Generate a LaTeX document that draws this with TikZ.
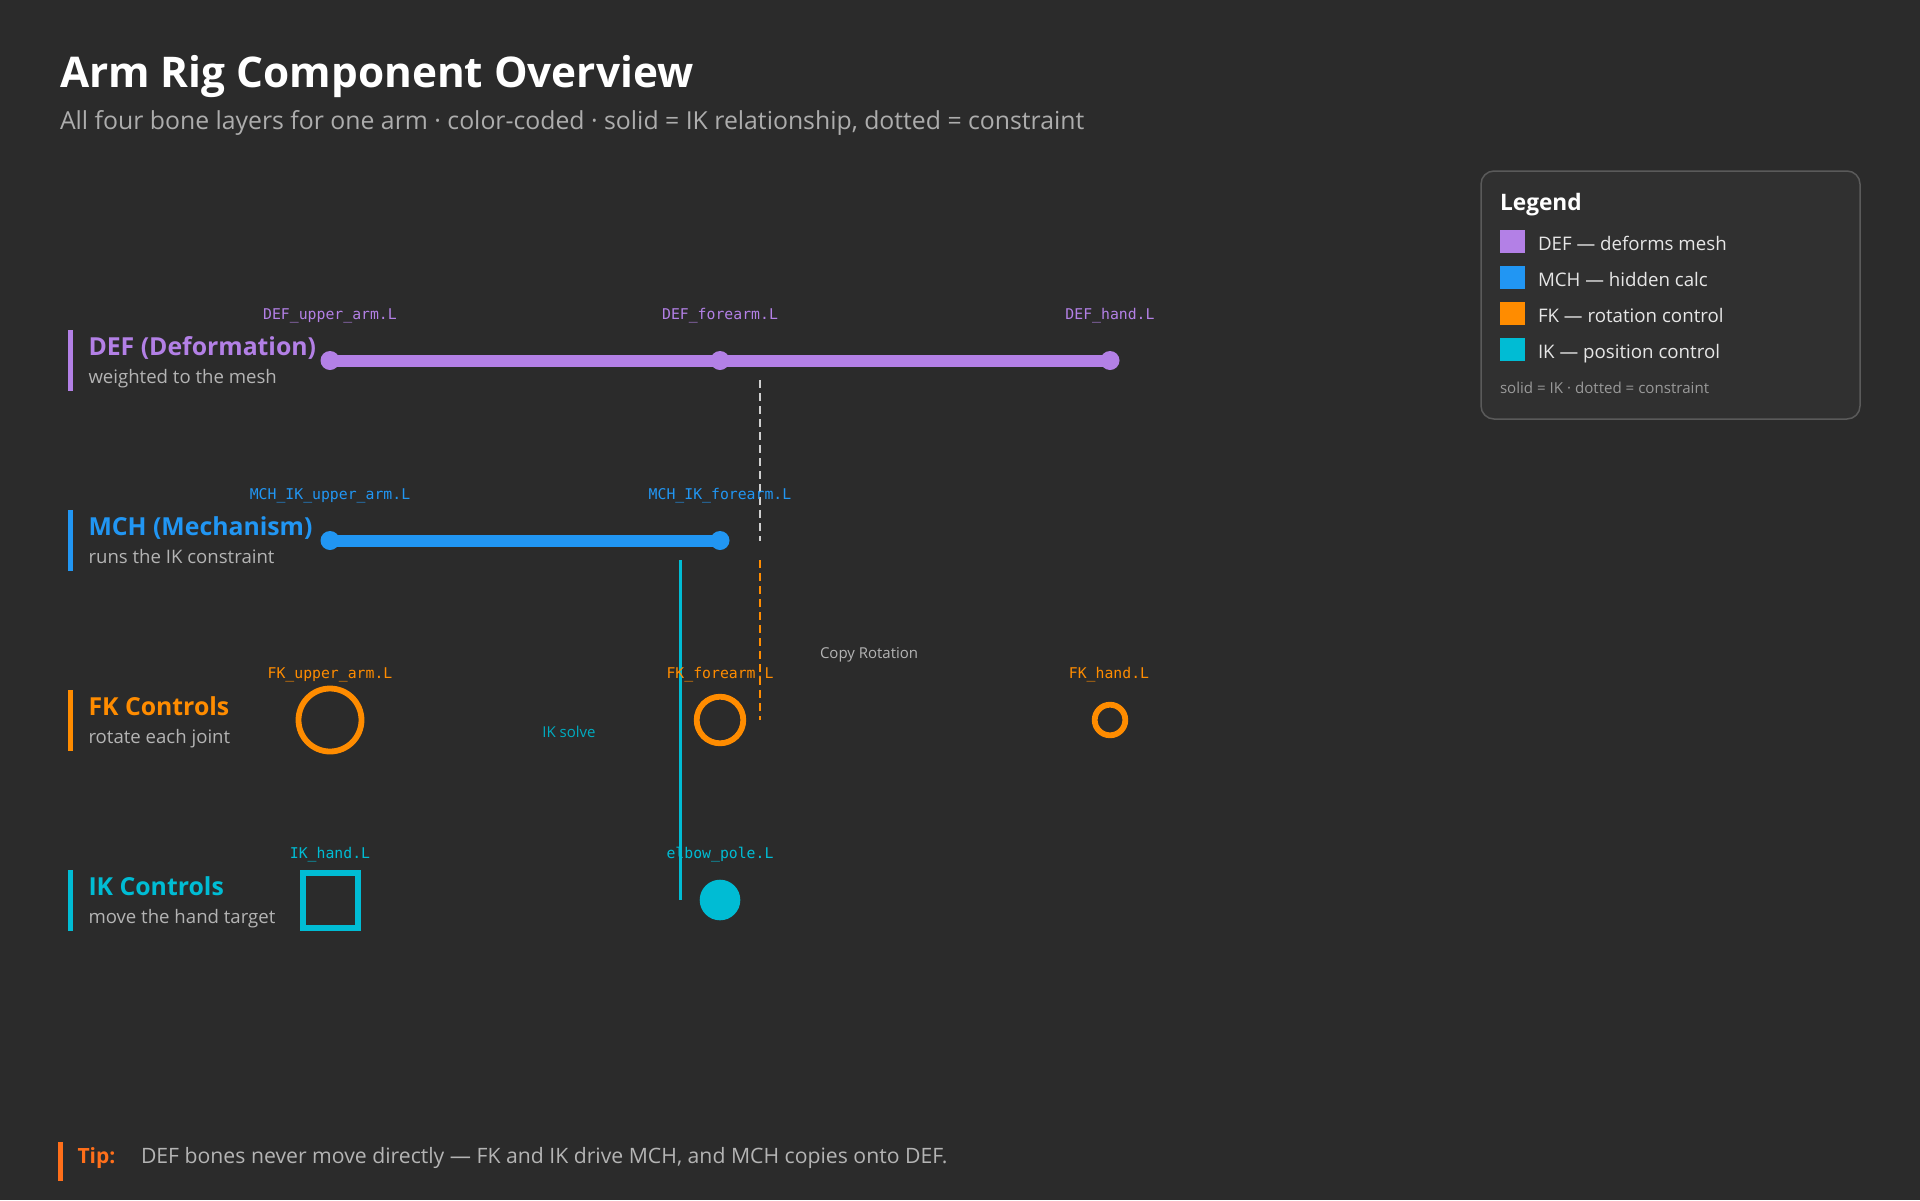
\documentclass[tikz,border=0pt]{standalone}
\usepackage{fontspec}
\setmainfont{Open Sans}
\newfontfamily\monof{DejaVu Sans Mono}
\definecolor{bg}{HTML}{2B2B2B}
\definecolor{defc}{HTML}{B380E6}
\definecolor{mchc}{HTML}{2196F3}
\definecolor{fkc}{HTML}{FF8C00}
\definecolor{ikc}{HTML}{00BCD4}
\definecolor{iksolve}{HTML}{00ACC1}
\definecolor{tipc}{HTML}{FF6F1A}
\definecolor{subgray}{HTML}{ADADAD}
\definecolor{rowgray}{HTML}{B4B4B4}
\definecolor{leggray}{HTML}{E6E6E6}
\definecolor{footgray}{HTML}{9A9A9A}
\definecolor{legfill}{HTML}{303030}
\definecolor{legstroke}{HTML}{5A5A5A}
\definecolor{dashw}{HTML}{D0D0D0}
\begin{document}
\begin{tikzpicture}[x=1pt,y=-1pt,
  txt/.style={inner sep=0pt, outer sep=0pt},
  lbl/.style={txt, anchor=base, font=\monof\fontsize{14.8}{16}\selectfont},
  rowtitle/.style={txt, anchor=base west, font=\bfseries\fontsize{24.8}{28}\selectfont},
  rowsub/.style={txt, anchor=base west, text=rowgray, font=\fontsize{18.6}{22}\selectfont},
  rowbar/.style={line width=5pt},
  joint/.style={circle, fill, minimum size=19pt, inner sep=0pt, outer sep=0pt},
  bone/.style={line width=12pt},
  fkring/.style={circle, draw=fkc, line width=5.8pt, inner sep=0pt, outer sep=0pt},
  swatch/.style={minimum width=25pt, minimum height=23pt, inner sep=0pt, outer sep=0pt},
  legtxt/.style={txt, anchor=base west, text=leggray, font=\fontsize{18.7}{22}\selectfont},
  dashline/.style={line width=2pt, dash pattern=on 8pt off 5pt}
]
\fill[bg] (0,0) rectangle (1920,1200);
\useasboundingbox (0,0) rectangle (1920,1200);

% Title
\node[txt, anchor=base west, text=white, font=\bfseries\fontsize{42.3}{48}\selectfont] (title) at (60,87.5) {Arm Rig Component Overview};
\node[txt, anchor=base west, text=subgray, font=\fontsize{24.8}{28}\selectfont] (subtitle) at (60,129) {All four bone layers for one arm · color-coded · solid = IK relationship, dotted = constraint};

% Legend
\draw[rounded corners=13pt, fill=legfill, draw=legstroke, line width=1.5pt] (1481,171) rectangle (1860,419);
\node[txt, anchor=base west, text=white, font=\bfseries\fontsize{22.7}{26}\selectfont] (legtitle) at (1500,210) {Legend};
\node[swatch, fill=defc] (sw1) at (1512.5,241.5) {};
\node[swatch, fill=mchc] (sw2) at (1512.5,277.5) {};
\node[swatch, fill=fkc] (sw3) at (1512.5,313.5) {};
\node[swatch, fill=ikc] (sw4) at (1512.5,349.5) {};
\node[legtxt] (lt1) at (1538,250) {DEF — deforms mesh};
\node[legtxt] (lt2) at (1538,286) {MCH — hidden calc};
\node[legtxt] (lt3) at (1538,322) {FK — rotation control};
\node[legtxt] (lt4) at (1538,358) {IK — position control};
\node[txt, anchor=base west, text=footgray, font=\fontsize{15.1}{18}\selectfont] (legfoot) at (1500,393) {solid = IK · dotted = constraint};

% Row headers
\draw[rowbar, defc] (70.5,330) -- (70.5,391);
\node[rowtitle, text=defc] (deft) at (88.5,355) {DEF (Deformation)};
\node[rowsub] (defs) at (88.5,383) {weighted to the mesh};
\draw[rowbar, mchc] (70.5,510) -- (70.5,571);
\node[rowtitle, text=mchc] (mcht) at (88.5,535) {MCH (Mechanism)};
\node[rowsub] (mchs) at (88.5,563) {runs the IK constraint};
\draw[rowbar, fkc] (70.5,690) -- (70.5,751);
\node[rowtitle, text=fkc] (fkt) at (88.5,715) {FK Controls};
\node[rowsub] (fks) at (88.5,743) {rotate each joint};
\draw[rowbar, ikc] (70.5,870) -- (70.5,931);
\node[rowtitle, text=ikc] (ikt) at (88.5,895) {IK Controls};
\node[rowsub] (iks) at (88.5,923) {move the hand target};

% Connectors (behind)
\coordinate (wtop) at (760,380);
\coordinate (wbot) at (760,541);
\coordinate (otop) at (760,560);
\coordinate (obot) at (760,720);
\coordinate (ctop) at (680,560);
\coordinate (cbot) at (680,900);
\draw[dashline, dashw] (wtop) -- (wbot);
\draw[dashline, fkc] (otop) -- (obot);
\draw[line width=3pt, ikc] (ctop) -- (cbot);
\node[txt, anchor=base west, text=rowgray, font=\fontsize{15}{18}\selectfont] (copyrot) at (820,658) {Copy Rotation};
\node[txt, anchor=base, text=iksolve, font=\fontsize{15}{18}\selectfont] (iksolvet) at (569,737) {IK solve};

% DEF bones
\node[joint, fill=defc] (d1) at (330,360.5) {};
\node[joint, fill=defc] (d2) at (720,360.5) {};
\node[joint, fill=defc] (d3) at (1110,360.5) {};
\draw[bone, defc] (d1.center) -- (d2.center) -- (d3.center);
\node[lbl, text=defc] (d1l) at (330,319) {DEF\_upper\_arm.L};
\node[lbl, text=defc] (d2l) at (720,319) {DEF\_forearm.L};
\node[lbl, text=defc] (d3l) at (1110,319) {DEF\_hand.L};

% MCH bones
\node[joint, fill=mchc] (m1) at (330,540.5) {};
\node[joint, fill=mchc] (m2) at (720,540.5) {};
\draw[bone, mchc] (m1.center) -- (m2.center);
\node[lbl, text=mchc] (m1l) at (330,499) {MCH\_IK\_upper\_arm.L};
\node[lbl, text=mchc] (m2l) at (720,499) {MCH\_IK\_forearm.L};

% FK controls
\node[fkring, minimum size=63pt] (f1) at (330,720) {};
\node[fkring, minimum size=46.6pt] (f2) at (720,720) {};
\node[fkring, minimum size=30.6pt] (f3) at (1110,720) {};
\node[lbl, text=fkc] (f1l) at (330,678) {FK\_upper\_arm.L};
\node[lbl, text=fkc] (f2l) at (720,678) {FK\_forearm.L};
\node[lbl, text=fkc] (f3l) at (1109,678) {FK\_hand.L};

% IK controls
\node[draw=ikc, line width=6pt, minimum size=55pt, inner sep=0pt, outer sep=0pt] (ik1) at (330.5,900) {};
\node[circle, fill=ikc, minimum size=40.6pt, inner sep=0pt, outer sep=0pt] (ik2) at (720,900) {};
\node[lbl, text=ikc] (ik1l) at (330,858) {IK\_hand.L};
\node[lbl, text=ikc] (ik2l) at (720,858) {elbow\_pole.L};

% Tip
\draw[rowbar, tipc] (60.5,1142) -- (60.5,1181);
\node[txt, anchor=base west, text=tipc, font=\bfseries\fontsize{21}{25}\selectfont] (tip) at (77.5,1163) {Tip:};
\node[txt, anchor=base west, text=rowgray, font=\fontsize{21.2}{25}\selectfont] (tiptxt) at (141,1163) {DEF bones never move directly — FK and IK drive MCH, and MCH copies onto DEF.};
\end{tikzpicture}
\end{document}
